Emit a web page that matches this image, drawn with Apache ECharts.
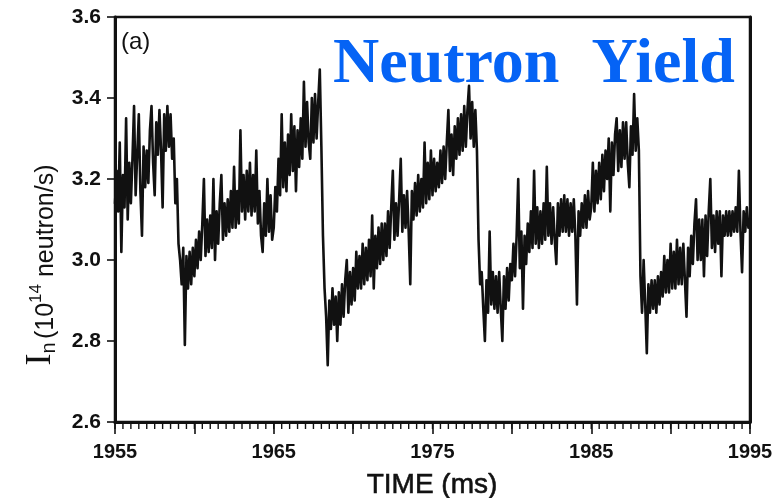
<!DOCTYPE html>
<html>
<head>
<meta charset="utf-8">
<title>Neutron Yield</title>
<script src="https://cdn.jsdelivr.net/npm/echarts@6/dist/echarts.min.js"></script>
<style>
  html, body { margin: 0; padding: 0; background: #ffffff; }
  #chart { width: 780px; height: 498px; }
</style>
</head>
<body>
<div id="chart"></div>
<script>
// Neutron emission rate I_n (10^14 neutron/s), sampled every 0.1 ms from 1955 ms.
const T0 = 1955;
const DT = 0.1;

const yield1955 = [
  3.14, 3.22, 3.12, 3.29, 3.02, 3.21, 3.13, 3.35, 3.10, 3.24,
  3.14, 3.25, 3.38, 3.16, 3.26, 3.36, 3.17, 3.06, 3.28, 3.18,
  3.27, 3.19, 3.32, 3.38, 3.24, 3.16, 3.34, 3.26, 3.37, 3.27,
  3.13, 3.36, 3.27, 3.38, 3.28, 3.36, 3.25, 3.30, 3.14, 3.20,
  3.04, 3.00, 2.94, 3.03, 2.79, 3.01, 2.93, 3.02, 2.94, 3.03
];
const yield1960 = [
  2.96, 3.05, 2.98, 3.07, 3.00, 3.09, 3.20, 3.01, 3.10, 3.02,
  3.11, 3.03, 3.20, 3.00, 3.12, 3.04, 3.14, 3.21, 3.05, 3.14,
  3.06, 3.15, 3.07, 3.17, 3.08, 3.23, 3.08, 3.17, 3.09, 3.32,
  3.12, 3.21, 3.10, 3.22, 3.12, 3.24, 3.11, 3.21, 3.12, 3.27,
  3.09, 3.17, 3.06, 3.02, 3.14, 3.06, 3.20, 3.07, 3.16, 3.05
];
const yield1965 = [
  3.08, 3.18, 3.12, 3.25, 3.16, 3.36, 3.18, 3.29, 3.17, 3.31,
  3.21, 3.36, 3.22, 3.33, 3.17, 3.32, 3.23, 3.35, 3.25, 3.44,
  3.28, 3.39, 3.29, 3.25, 3.40, 3.29, 3.41, 3.30, 3.39, 3.47,
  3.28, 3.06, 2.93, 2.86, 2.74, 2.90, 2.83, 2.93, 2.84, 2.91,
  2.80, 2.92, 2.84, 2.94, 2.86, 2.95, 3.00, 2.87, 2.97, 2.89
];
const yield1970 = [
  2.98, 2.90, 3.02, 2.93, 3.01, 2.93, 3.04, 2.94, 3.03, 2.95,
  3.05, 2.96, 3.11, 2.93, 3.06, 2.98, 3.08, 2.99, 3.09, 3.00,
  3.09, 3.01, 3.12, 3.03, 3.13, 3.22, 3.05, 3.14, 3.06, 3.15,
  3.25, 3.07, 3.16, 3.08, 3.17, 3.07, 2.94, 3.17, 3.10, 3.19,
  3.11, 3.21, 3.12, 3.20, 3.13, 3.29, 3.14, 3.24, 3.15, 3.27
];
const yield1975 = [
  3.16, 3.25, 3.17, 3.24, 3.18, 3.27, 3.19, 3.28, 3.20, 3.29,
  3.37, 3.22, 3.31, 3.21, 3.33, 3.25, 3.35, 3.26, 3.36, 3.27,
  3.38, 3.28, 3.37, 3.43, 3.30, 3.39, 3.28, 3.37, 3.27, 3.05,
  2.94, 2.97, 2.88, 2.80, 2.95, 2.87, 3.07, 2.89, 2.97, 2.88,
  2.96, 2.87, 2.97, 2.88, 2.80, 2.96, 2.88, 2.98, 2.90, 2.99
];
const yield1980 = [
  2.95, 3.04, 2.96, 3.06, 3.20, 2.98, 3.07, 2.88, 3.06, 2.99,
  3.09, 3.02, 3.12, 3.03, 3.22, 3.04, 3.13, 3.03, 3.12, 3.04,
  3.14, 3.05, 3.23, 3.06, 3.14, 3.04, 3.13, 3.05, 2.99, 3.14,
  3.06, 3.15, 3.07, 3.16, 3.07, 3.15, 3.06, 3.14, 3.07, 3.15,
  3.06, 2.89, 3.12, 3.06, 3.14, 3.08, 3.16, 3.08, 3.17, 3.10
];
const yield1985 = [
  3.13, 3.24, 3.12, 3.22, 3.14, 3.24, 3.15, 3.26, 3.17, 3.27,
  3.20, 3.30, 3.12, 3.29, 3.21, 3.31, 3.35, 3.22, 3.32, 3.23,
  3.34, 3.25, 3.34, 3.24, 3.18, 3.33, 3.26, 3.41, 3.27, 3.35,
  3.27, 2.96, 2.87, 3.00, 2.89, 2.77, 2.94, 2.87, 2.95, 2.88,
  2.95, 2.87, 2.96, 2.89, 2.97, 2.91, 3.01, 2.92, 3.00, 2.92
];
const yield1990 = [
  3.04, 2.93, 3.02, 2.93, 3.05, 2.94, 3.03, 2.94, 3.04, 2.95,
  2.86, 3.03, 2.96, 3.06, 2.99, 3.09, 3.15, 3.00, 3.10, 3.00,
  3.10, 2.96, 3.11, 3.01, 3.12, 3.20, 3.03, 3.11, 3.02, 3.12,
  3.04, 3.12, 2.96, 3.11, 3.06, 3.12, 3.06, 3.12, 3.06, 3.12,
  3.07, 3.13, 3.07, 3.22, 3.07, 2.97, 3.12, 3.07, 3.13, 3.08,
  3.10
];

// Axis ranges and labelled ticks
const timeRange = [1955, 1995];
const timeLabels = [1955, 1965, 1975, 1985, 1995];
const timeMinorStep = 0.5;
const yieldRange = [2.6, 3.6];
const yieldLabels = [2.6, 2.8, 3.0, 3.2, 3.4, 3.6];

const yieldValues = [].concat(
  yield1955, yield1960, yield1965, yield1970,
  yield1975, yield1980, yield1985, yield1990
);
const seriesData = yieldValues.map((v, i) => [+(T0 + i * DT).toFixed(1), v]);

// times of the short ticks along the bottom edge
const minorTickTimes = [];
for (let k = 0; timeRange[0] + k * timeMinorStep <= timeRange[1] + 1e-9; k++) {
  minorTickTimes.push(+(timeRange[0] + k * timeMinorStep).toFixed(1));
}

const chart = echarts.init(document.getElementById('chart'), null, { renderer: 'canvas' });

const INK = '#111111';
const labelFont = {
  color: INK,
  fontFamily: '"Liberation Sans", Arial, sans-serif',
  fontWeight: 'bold'
};

chart.setOption({
  animation: false,
  backgroundColor: '#ffffff',
  // the grid border draws the closed frame round the plot
  grid: {
    left: 115, right: 30, top: 17, bottom: 76, containLabel: false,
    show: true, borderColor: INK, borderWidth: 2.5, backgroundColor: 'transparent'
  },
  xAxis: [
    {
      // time axis: long ticks every 5 ms, labels every 10 ms
      type: 'value',
      min: timeRange[0],
      max: timeRange[1],
      interval: 5,
      splitLine: { show: false },
      axisLine: { show: true, onZero: false, lineStyle: { color: INK, width: 3 } },
      axisTick: { show: true, inside: false, length: 12, lineStyle: { color: INK, width: 1.6 } },
      axisLabel: Object.assign({
        margin: 20,
        fontSize: 20,
        formatter: (v) => (timeLabels.includes(v) ? String(v) : '')
      }, labelFont)
    }
  ],
  yAxis: [
    {
      type: 'value',
      min: yieldRange[0],
      max: yieldRange[1],
      interval: 0.2,
      splitLine: { show: false },
      axisLine: { show: true, onZero: false, lineStyle: { color: INK, width: 3 } },
      axisTick: { show: true, inside: false, length: 8, lineStyle: { color: INK, width: 1.6 } },
      axisLabel: Object.assign({
        margin: 14,
        fontSize: 21,
        formatter: (v) => {
          const hit = yieldLabels.find((t) => Math.abs(t - v) < 1e-6);
          return hit === undefined ? '' : hit.toFixed(1);
        }
      }, labelFont)
    },
    {
      type: 'value',
      position: 'right',
      min: yieldRange[0],
      max: yieldRange[1],
      splitLine: { show: false },
      axisLine: { show: true, onZero: false, lineStyle: { color: INK, width: 3 } },
      axisTick: { show: false },
      axisLabel: { show: false }
    }
  ],
  series: [
    {
      type: 'line',
      xAxisIndex: 0,
      yAxisIndex: 0,
      data: seriesData,
      showSymbol: false,
      symbol: 'none',
      sampling: null,
      smooth: false,
      lineStyle: { color: INK, width: 2.6, join: 'round', cap: 'round' },
      z: 3
    }
  ],
  graphic: [
    {
      id: 'title',
      type: 'text',
      left: 333,
      top: 33,
      z: 10,
      style: {
        text: 'Neutron  Yield',
        fill: '#0563f5',
        font: 'bold 64px "Liberation Serif", "Times New Roman", serif'
      }
    },
    {
      id: 'panel',
      type: 'text',
      left: 121,
      top: 30,
      z: 10,
      style: {
        text: '(a)',
        fill: INK,
        font: '24px "Liberation Sans", Arial, sans-serif'
      }
    },
    {
      id: 'xname',
      type: 'text',
      x: 432,
      y: 485,
      z: 10,
      style: {
        text: 'TIME (ms)',
        fill: INK,
        stroke: INK,
        lineWidth: 0.6,
        align: 'center',
        verticalAlign: 'middle',
        font: '28px "Liberation Sans", Arial, sans-serif'
      }
    },
    {
      id: 'yname',
      type: 'text',
      x: 41,
      y: 265,
      rotation: Math.PI / 2,
      z: 10,
      style: {
        text: '{i|I}{sub|n} {p|(10}{sup|14}{p| neutron/s)}',
        fill: INK,
        align: 'center',
        verticalAlign: 'middle',
        rich: {
          i: { fontFamily: '"Liberation Serif", "Times New Roman", serif', fontSize: 36, fill: INK, verticalAlign: 'bottom' },
          sub: { fontFamily: '"Liberation Sans", Arial, sans-serif', fontSize: 20, fill: INK, padding: [14, 0, 0, 0], verticalAlign: 'bottom' },
          p: { fontFamily: '"Liberation Sans", Arial, sans-serif', fontSize: 25, fill: INK, verticalAlign: 'bottom' },
          sup: { fontFamily: '"Liberation Sans", Arial, sans-serif', fontSize: 17, fill: INK, padding: [0, 0, 14, 0], verticalAlign: 'bottom' }
        }
      }
    }
  ]
});

// Short 0.5 ms ticks under the time axis, placed through each axis scale separately.
const axisBottomY = chart.convertToPixel({ yAxisIndex: 0 }, yieldRange[0]);
const tickMarks = [];
minorTickTimes.forEach((t, k) => {
  const px = chart.convertToPixel({ xAxisIndex: 0 }, t);
  if (!isFinite(px) || !isFinite(axisBottomY)) return;
  tickMarks.push({
    id: 'minor-tick-' + k,
    type: 'line',
    silent: true,
    z: 20,
    shape: { x1: px, y1: axisBottomY, x2: px, y2: axisBottomY + 7 },
    style: { stroke: INK, lineWidth: 1.4 }
  });
});
if (tickMarks.length) {
  chart.setOption({ graphic: { elements: tickMarks } });
}
</script>
</body>
</html>
